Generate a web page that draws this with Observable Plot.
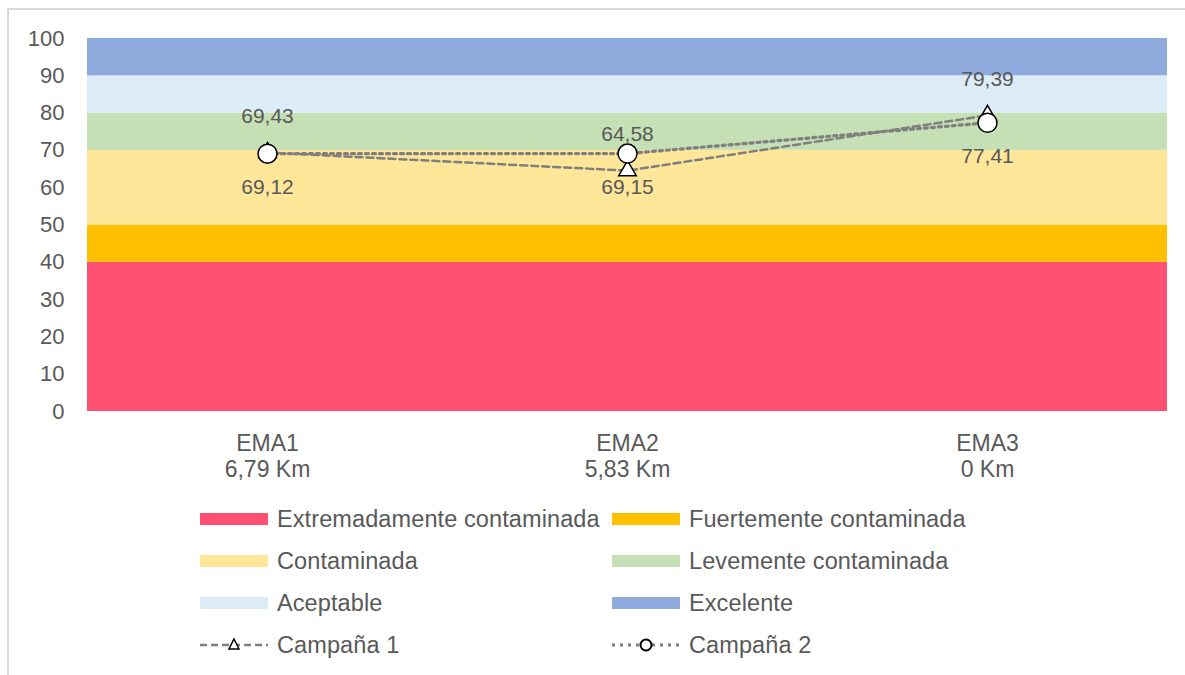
<!DOCTYPE html>
<html>
<head>
<meta charset="utf-8">
<script src="https://cdn.jsdelivr.net/npm/d3@7"></script>
<script src="https://cdn.jsdelivr.net/npm/@observablehq/plot@0.6"></script>
<style>
  body { margin: 0; background: #fff; font-family: "Liberation Sans", Arial, sans-serif; }
  #wrap { position: relative; width: 1185px; height: 675px; overflow: hidden; background: #fff; }
  #frame { position: absolute; left: 7px; top: 8px; width: 1300px; height: 800px;
           border-top: 2px solid #d9d9d9; border-left: 2px solid #d9d9d9; box-sizing: border-box; }
  #chart { position: absolute; left: 0; top: 0; }
  .item { position: absolute; height: 30px; display: flex; align-items: center; }
  .item svg { display: block; }
  .item span { margin-left: 9px; font-size: 23.5px; letter-spacing: 0.1px; color: #595959; white-space: nowrap; }
</style>
</head>
<body>
<div id="wrap">
  <div id="frame"></div>
  <div id="chart"></div>
  <div id="legend"></div>
</div>
<script>
// ---- data ----
const stations = ["EMA1", "EMA2", "EMA3"];
const distances = ["6,79 Km", "5,83 Km", "0 Km"];
const campana1 = [69.43, 64.58, 79.39];
const campana2 = [69.12, 69.15, 77.41];
const seriesNames = ["Campaña 1", "Campaña 2"];
const bandNames = ["Extremadamente contaminada", "Fuertemente contaminada", "Contaminada",
                   "Levemente contaminada", "Aceptable", "Excelente"];
const bandLow  = [0, 40, 50, 70, 80, 90];
const bandHigh = [40, 50, 70, 80, 90, 100];
const bandColors = ["#FF5072", "#FFC000", "#FFE699", "#C5E0B4", "#DDEBF7", "#8FAADC"];
const yTicks = [0, 10, 20, 30, 40, 50, 60, 70, 80, 90, 100];

// ---- tables ----
const bands = stations.flatMap(s => bandNames.map((name, i) => ({
  s, name, y1: bandLow[i], y2: bandHigh[i], color: bandColors[i]
})));
const c1 = stations.map((s, i) => ({ s, v: campana1[i] }));
const c2 = stations.map((s, i) => ({ s, v: campana2[i] }));
const fmt = v => d3.format(".2f")(v).replace(".", ",");
const gray = "#595959";
const lineGray = "#7f7f7f";

const chart = Plot.plot({
  width: 1185,
  height: 490,
  marginTop: 38,
  marginBottom: 79,
  marginLeft: 87,
  marginRight: 18,
  style: { fontFamily: "'Liberation Sans', Arial, sans-serif", fontSize: "22px", color: gray, background: "transparent" },
  x: { type: "band", domain: stations, padding: 0, label: null, axis: null },
  y: { domain: [0, 100], label: null, axis: null },
  color: { type: "identity" },
  marks: [
    Plot.barY(bands, { x: "s", y1: "y1", y2: "y2", fill: "color", inset: 0 }),
    Plot.axisY({ ticks: yTicks, tickSize: 0, tickPadding: 23, fontSize: 22, label: null, fill: gray }),
    Plot.axisX({ tickSize: 0, tickPadding: 21, fontSize: 23, lineHeight: 1.12, label: null, fill: gray,
                 tickFormat: d => `${d}\n${distances[stations.indexOf(d)]}` }),
    Plot.line(c1, { x: "s", y: "v", stroke: lineGray, strokeWidth: 2.5, strokeDasharray: "7,4" }),
    Plot.dot(c1, { x: "s", y: "v", symbol: "triangle", r: 6.5, fill: "white", stroke: "black", strokeWidth: 1.5 }),
    Plot.line(c2, { x: "s", y: "v", stroke: lineGray, strokeWidth: 3.2, strokeDasharray: "3,4" }),
    Plot.dot(c2, { x: "s", y: "v", symbol: "circle", r: 9.5, fill: "white", stroke: "black", strokeWidth: 1.5 }),
    Plot.text(c1, { x: "s", y: "v", text: d => fmt(d.v), dy: -36, fontSize: 21, fill: gray }),
    Plot.text(c2, { x: "s", y: "v", text: d => fmt(d.v), dy: 34, fontSize: 21, fill: gray })
  ]
});
document.getElementById("chart").appendChild(chart);

// ---- legend ----
const legend = document.getElementById("legend");
const colX = [200, 612];
const rowY = [519, 561, 603, 645];
const ns = "http://www.w3.org/2000/svg";
function addItem(col, row, label, drawSwatch) {
  const div = document.createElement("div");
  div.className = "item";
  div.style.left = colX[col] + "px";
  div.style.top = (rowY[row] - 15) + "px";
  const svg = document.createElementNS(ns, "svg");
  svg.setAttribute("width", 68);
  svg.setAttribute("height", 30);
  drawSwatch(svg);
  div.appendChild(svg);
  const span = document.createElement("span");
  span.textContent = label;
  div.appendChild(span);
  legend.appendChild(div);
}
function el(name, attrs) {
  const e = document.createElementNS(ns, name);
  for (const k in attrs) e.setAttribute(k, attrs[k]);
  return e;
}
bandNames.forEach((name, i) => {
  addItem(i % 2, Math.floor(i / 2), name, svg => {
    svg.appendChild(el("rect", { x: 0, y: 9, width: 68, height: 12, fill: bandColors[i] }));
  });
});
addItem(0, 3, seriesNames[0], svg => {
  svg.appendChild(el("line", { x1: 0, x2: 68, y1: 15, y2: 15, stroke: lineGray, "stroke-width": 2.5, "stroke-dasharray": "7,4" }));
  svg.appendChild(el("path", { d: "M34,9 L39,19 L29,19 Z", fill: "white", stroke: "black", "stroke-width": 1.5 }));
});
addItem(1, 3, seriesNames[1], svg => {
  svg.appendChild(el("line", { x1: 0, x2: 68, y1: 15, y2: 15, stroke: lineGray, "stroke-width": 3.2, "stroke-dasharray": "3,5" }));
  svg.appendChild(el("circle", { cx: 34, cy: 15, r: 5.5, fill: "white", stroke: "black", "stroke-width": 2 }));
});
</script>
</body>
</html>
